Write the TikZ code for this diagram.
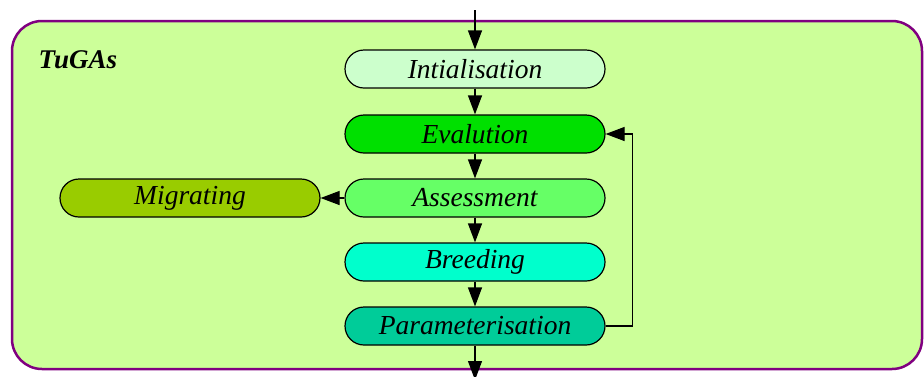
\documentclass[tikz,border=0pt]{standalone}
\usepackage{fontspec}
\setmainfont{Liberation Serif}
\usetikzlibrary{positioning,arrows.meta}
\definecolor{frame}{HTML}{800080}
\definecolor{panel}{HTML}{CCFF99}
\definecolor{initfill}{HTML}{CCFFCC}
\definecolor{evalfill}{HTML}{00E000}
\definecolor{assessfill}{HTML}{66FF66}
\definecolor{breedfill}{HTML}{00FFCC}
\definecolor{paramfill}{HTML}{00CC99}
\definecolor{migrfill}{HTML}{99CC00}
\begin{document}
\begin{tikzpicture}[x=1pt,y=-1pt,>={Triangle[length=19pt,width=14pt]},
  stage/.style={draw,line width=1.2pt,rounded corners=19pt,minimum width=260pt,minimum height=38pt,inner sep=0pt,font=\fontsize{27.5}{30}\selectfont\itshape}]
\useasboundingbox (0,0) rectangle (924,376);
\draw[frame,line width=2.5pt,fill=panel,rounded corners=30pt] (12,21) rectangle (922,369);
\node[anchor=west,font=\fontsize{27}{29}\selectfont\bfseries\itshape] (title) at (35,60) {TuGAs};
\node[stage,fill=initfill] (init) at (475,69) {Intialisation};
\node[stage,fill=evalfill] (eval) at (475,134) {Evalution};
\node[stage,fill=assessfill] (assess) at (475,198) {Assessment};
\node[stage,fill=breedfill] (breed) at (475,262) {Breeding};
\node[stage,fill=paramfill] (param) at (475,326) {Parameterisation};
\node[stage,fill=migrfill] (migr) at (190,198) {Migrating};
\coordinate (start) at (475,10);
\coordinate (stop) at (475,380);
\draw[->,line width=1.2pt] (start)--(init);
\draw[->,line width=1.2pt] (init)--(eval);
\draw[->,line width=1.2pt] (eval)--(assess);
\draw[->,line width=1.2pt] (assess)--(breed);
\draw[->,line width=1.2pt] (breed)--(param);
\draw[->,line width=1.2pt] (param)--(stop);
\draw[->,line width=1.2pt] (assess)--(migr);
\draw[->,line width=1.2pt] (param.east)--++(27,0) |- (eval.east);
\end{tikzpicture}
\end{document}
